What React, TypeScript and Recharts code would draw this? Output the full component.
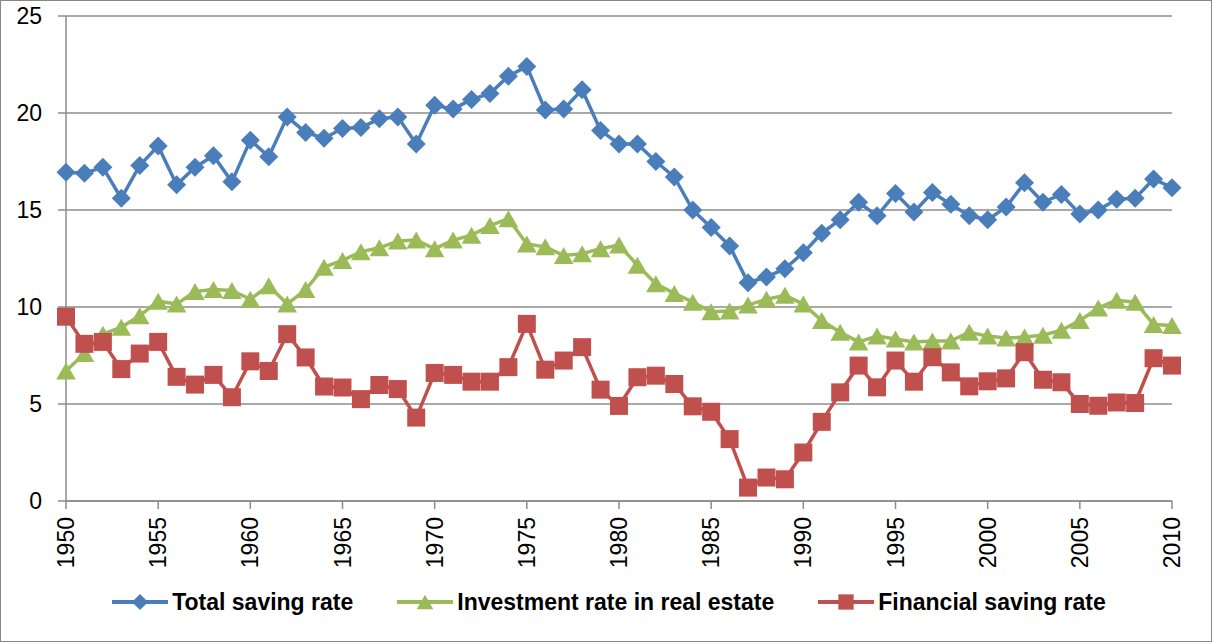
import React from "react"
import {
  LineChart,
  Line,
  XAxis,
  YAxis,
  CartesianGrid,
  Legend,
} from "recharts"

const years = Array.from({ length: 61 }, (_, i) => 1950 + i)

const totalSaving = [
  16.95, 16.9, 17.2, 15.6, 17.3, 18.3, 16.3, 17.2, 17.8, 16.45,
  18.6, 17.75, 19.8, 19.0, 18.7, 19.2, 19.25, 19.7, 19.8, 18.4,
  20.4, 20.2, 20.7, 21.0, 21.9, 22.4, 20.15, 20.2, 21.2, 19.1,
  18.4, 18.4, 17.5, 16.7, 15.0, 14.1, 13.15, 11.25, 11.55, 11.97,
  12.8, 13.8, 14.5, 15.4, 14.7, 15.85, 14.9, 15.9, 15.3, 14.7,
  14.5, 15.15, 16.4, 15.4, 15.8, 14.8, 15.0, 15.55, 15.6, 16.6, 16.15,
]

const realEstate = [
  6.7, 7.6, 8.6, 8.96, 9.55, 10.3, 10.15, 10.8, 10.9, 10.85,
  10.4, 11.1, 10.15, 10.9, 12.05, 12.4, 12.85, 13.05, 13.4, 13.45,
  13.0, 13.45, 13.7, 14.2, 14.55, 13.25, 13.1, 12.65, 12.75, 13.0,
  13.2, 12.15, 11.2, 10.7, 10.25, 9.75, 9.8, 10.1, 10.4, 10.6,
  10.15, 9.3, 8.7, 8.2, 8.5, 8.35, 8.2, 8.25, 8.25, 8.7,
  8.5, 8.4, 8.45, 8.55, 8.8, 9.3, 9.95, 10.35, 10.25, 9.1, 9.05,
]

const financialSaving = [
  9.5, 8.1, 8.2, 6.8, 7.6, 8.2, 6.4, 6.0, 6.5, 5.35,
  7.2, 6.7, 8.6, 7.4, 5.9, 5.85, 5.25, 5.98, 5.77, 4.3,
  6.6, 6.5, 6.15, 6.15, 6.9, 9.13, 6.77, 7.24, 7.93, 5.74,
  4.9, 6.38, 6.46, 6.03, 4.88, 4.6, 3.19, 0.69, 1.21, 1.12,
  2.5, 4.08, 5.6, 6.98, 5.86, 7.24, 6.15, 7.41, 6.63, 5.91,
  6.17, 6.32, 7.67, 6.25, 6.12, 5.0, 4.91, 5.08, 5.05, 7.36, 6.98,
]

const xTicks = [1950, 1955, 1960, 1965, 1970, 1975, 1980, 1985, 1990, 1995, 2000, 2005, 2010]
const yTicks = [0, 5, 10, 15, 20, 25]

const seriesNames = {
  total: "Total saving rate",
  realEstate: "Investment rate in real estate",
  financial: "Financial saving rate",
}
const legendOrder = ["total", "realEstate", "financial"]

const chartData = years.map((year, i) => ({
  year,
  total: totalSaving[i],
  realEstate: realEstate[i],
  financial: financialSaving[i],
}))

const BLUE = "#4A7EBB"
const GREEN = "#9BBB59"
const RED = "#C0504D"
const GRID = "#8c8c8c"
const FONT = "'Liberation Sans', Arial, sans-serif"

type Shape = "diamond" | "triangle" | "square"

function markerPath(shape: Shape, cx: number, cy: number, s = 1) {
  if (shape === "diamond") {
    const h = 9.5 * s
    return `M${cx},${cy - h}L${cx + h},${cy}L${cx},${cy + h}L${cx - h},${cy}Z`
  }
  if (shape === "triangle") {
    const w = 9.8 * s
    const h = 8.5 * s
    return `M${cx},${cy - h}L${cx + w},${cy + h}L${cx - w},${cy + h}Z`
  }
  const h = 9 * s
  return `M${cx - h},${cy - h}L${cx + h},${cy - h}L${cx + h},${cy + h}L${cx - h},${cy + h}Z`
}

const makeDot = (shape: Shape, color: string) => (props: any) => {
  const { cx, cy, index } = props
  if (cx == null || cy == null) return <g key={`e-${shape}-${index}`} />
  return <path key={`${shape}-${index}`} d={markerPath(shape, cx, cy)} fill={color} />
}

const shapes: Record<string, Shape> = {
  total: "diamond",
  realEstate: "triangle",
  financial: "square",
}

function YearTick(props: any) {
  const { x, y, payload } = props
  return (
    <g transform={`translate(${x},${y})`}>
      <text
        transform="rotate(-90)"
        textAnchor="end"
        dy="0.35em"
        fontSize={23}
        fontFamily={FONT}
        fill="#000"
      >
        {payload.value}
      </text>
    </g>
  )
}

function LegendContent(props: any) {
  const items = [...(props.payload || [])].sort(
    (a: any, b: any) => legendOrder.indexOf(a.dataKey) - legendOrder.indexOf(b.dataKey)
  )
  return (
    <div
      style={{
        width: 1210,
        height: 65,
        display: "flex",
        justifyContent: "center",
        alignItems: "flex-start",
        paddingTop: 14,
        boxSizing: "border-box",
        gap: 44,
        paddingLeft: 6,
      }}
    >
      {items.map((entry: any) => (
        <div key={entry.dataKey} style={{ display: "flex", alignItems: "center" }}>
          <svg width={56} height={24} style={{ marginRight: 4 }}>
            <line x1={0} y1={12} x2={56} y2={12} stroke={entry.color} strokeWidth={4} />
            <path d={markerPath(shapes[entry.dataKey], 28, 12, 0.85)} fill={entry.color} />
          </svg>
          <span
            style={{
              fontFamily: FONT,
              fontWeight: "bold",
              fontSize: 23,
              lineHeight: "24px",
              color: "#000",
            }}
          >
            {entry.value}
          </span>
        </div>
      ))}
    </div>
  )
}

export default function App() {
  return (
    <div
      style={{
        width: 1212,
        height: 642,
        border: "1px solid #868686",
        boxSizing: "border-box",
        background: "#fff",
        fontFamily: FONT,
      }}
    >
      <style>{"body{margin:0}"}</style>
      <LineChart
        width={1210}
        height={640}
        data={chartData}
        margin={{ top: 15, right: 39, bottom: 0, left: 0 }}
      >
        <CartesianGrid vertical={false} stroke={GRID} strokeWidth={1.5} />
        <XAxis
          dataKey="year"
          type="number"
          domain={[1950, 2010]}
          ticks={xTicks}
          interval={0}
          height={75}
          tickSize={8}
          tickMargin={8}
          stroke={GRID}
          strokeWidth={1.5}
          tick={<YearTick />}
        />
        <YAxis
          domain={[0, 25]}
          ticks={yTicks}
          interval={0}
          width={65}
          tickSize={8}
          tickMargin={16}
          stroke={GRID}
          strokeWidth={1.5}
          tick={{ fontSize: 23, fill: "#000", fontFamily: FONT }}
        />
        <Legend verticalAlign="bottom" height={65} content={<LegendContent />} />
        <Line
          type="linear"
          dataKey="total"
          name={seriesNames.total}
          stroke={BLUE}
          strokeWidth={3.5}
          strokeLinejoin="round"
          dot={makeDot("diamond", BLUE)}
          activeDot={false}
          isAnimationActive={false}
        />
        <Line
          type="linear"
          dataKey="realEstate"
          name={seriesNames.realEstate}
          stroke={GREEN}
          strokeWidth={3.5}
          strokeLinejoin="round"
          dot={makeDot("triangle", GREEN)}
          activeDot={false}
          isAnimationActive={false}
        />
        <Line
          type="linear"
          dataKey="financial"
          name={seriesNames.financial}
          stroke={RED}
          strokeWidth={3.5}
          strokeLinejoin="round"
          dot={makeDot("square", RED)}
          activeDot={false}
          isAnimationActive={false}
        />
      </LineChart>
    </div>
  )
}
